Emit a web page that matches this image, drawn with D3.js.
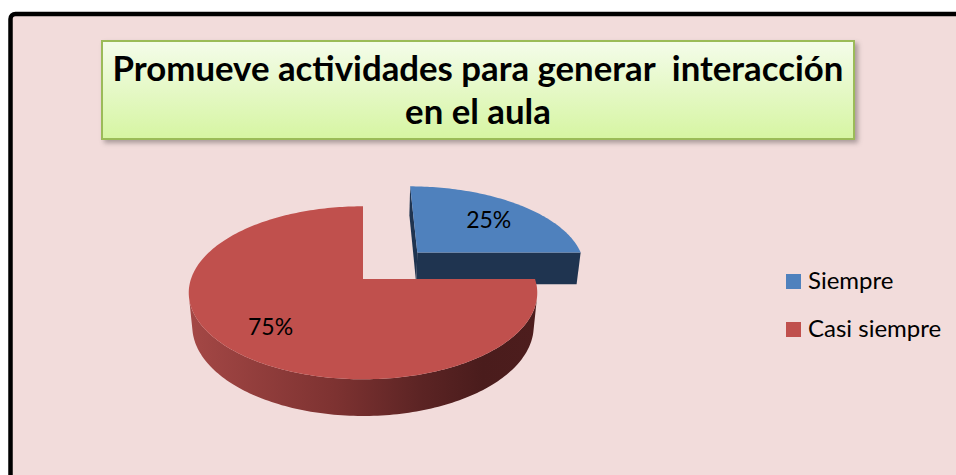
<!doctype html>
<html>
<head>
<meta charset="utf-8">
<title>Promueve actividades</title>
<style>
  body { margin: 0; background: #ffffff; }
  text { font-family: Lato, "Open Sans", sans-serif; }
</style>
</head>
<body>
<div id="chart"></div>
<script src="https://d3js.org/d3.v7.min.js"></script>
<script>
// datos
var categories = ["Siempre", "Casi siempre"];
var values = [25, 75];
var colors = ["#4F81BD", "#C0504D"];
var sideColors = ["#1F3450", "#4B1C1C"];
var explode = [0.47, 0];
var titleLines = ["Promueve actividades para generar  interacción", "en el aula"];

var w = 956, h = 475;

// camara para el pie 3D
var cx = 363, cy = 279, F = 941, D = 5.47;
var phi = Math.asin(0.49), sp = Math.sin(phi), cp = Math.cos(phi);
var depth = 0.224;

function proj(x, y, z) {
  var yc = y * cp - z * sp;
  var dep = D - (y * sp + z * cp);
  return [cx + F * x / dep, cy - F * yc / dep];
}
// punto del disco: angulo en sentido horario desde las 12
function pt(a, r, o, y) {
  return proj(o[0] + r * Math.sin(a), y, o[1] - r * Math.cos(a));
}
function sample(a0, a1) {
  var n = Math.max(2, Math.ceil((a1 - a0) / 0.02)), out = [];
  for (var i = 0; i <= n; i++) out.push(a0 + (a1 - a0) * i / n);
  return out;
}
function poly(pts) { return "M" + pts.map(function(p) { return p[0].toFixed(2) + "," + p[1].toFixed(2); }).join("L") + "Z"; }

var svg = d3.select("#chart").append("svg")
  .attr("width", w)
  .attr("height", h);

var defs = svg.append("defs");
var tg = defs.append("linearGradient").attr("id", "titleGrad").attr("x1", 0).attr("y1", 0).attr("x2", 0).attr("y2", 1);
tg.append("stop").attr("offset", 0).attr("stop-color", "#F4FCEA");
tg.append("stop").attr("offset", 1).attr("stop-color", "#D6F5A2");

var wg = defs.append("linearGradient").attr("id", "wallGrad")
  .attr("gradientUnits", "userSpaceOnUse").attr("x1", 186).attr("y1", 0).attr("x2", 535).attr("y2", 0);
[[0, "#A54846"], [0.43, "#7D3231"], [0.67, "#5C2424"], [0.85, "#4A1C1C"], [1, "#4D1D1D"]].forEach(function(s) {
  wg.append("stop").attr("offset", s[0]).attr("stop-color", s[1]);
});

var sh = defs.append("filter").attr("id", "shadow").attr("x", "-5%").attr("y", "-10%").attr("width", "115%").attr("height", "130%");
sh.append("feDropShadow").attr("dx", 3).attr("dy", 3).attr("stdDeviation", 2.5)
  .attr("flood-color", "#000").attr("flood-opacity", 0.3);

// fondo con marco
svg.append("rect")
  .attr("x", 10.5).attr("y", 14)
  .attr("width", 980).attr("height", 500)
  .attr("rx", 5)
  .attr("fill", "#F2DCDB")
  .attr("stroke", "#000").attr("stroke-width", 4.5);

// caja del titulo
svg.append("rect")
  .attr("x", 102).attr("y", 41)
  .attr("width", 752).attr("height", 98)
  .attr("fill", "url(#titleGrad)")
  .attr("stroke", "#9BBB59").attr("stroke-width", 2)
  .attr("filter", "url(#shadow)");

var title = svg.append("text")
  .attr("text-anchor", "middle")
  .style("font-weight", "bold")
  .style("white-space", "pre")
  .attr("fill", "#000");
titleLines.forEach(function(t, i) {
  title.append("tspan").attr("x", 478).attr("y", 81 + i * 43).text(t);
});
var fs = 33;
title.style("font-size", fs + "px");
var tl = title.select("tspan").node().getComputedTextLength();
title.style("font-size", (fs * 731 / tl) + "px");

// pie
var pie = d3.pie().sort(null).value(function(d) { return d; });
var arcs = pie(values);

var pg = svg.append("g");
arcs.forEach(function(d, i) {
  var mid = (d.startAngle + d.endAngle) / 2;
  var o = [explode[i] * Math.sin(mid), -explode[i] * Math.cos(mid)];
  var cam = [0, D * sp, D * cp];

  // pared exterior visible
  var run = [], runs = [];
  sample(d.startAngle, d.endAngle).forEach(function(a) {
    var px = o[0] + Math.sin(a), pz = o[1] - Math.cos(a);
    var dot = Math.sin(a) * (cam[0] - px) - Math.cos(a) * (cam[2] - pz);
    if (dot > 0) run.push(a);
    else if (run.length) { runs.push(run); run = []; }
  });
  if (run.length) runs.push(run);
  runs.forEach(function(r) {
    if (r.length < 2) return;
    var top = r.map(function(a) { return pt(a, 1, o, 0); });
    var bot = r.slice().reverse().map(function(a) { return pt(a, 1, o, -depth); });
    pg.append("path").attr("d", poly(top.concat(bot)))
      .attr("fill", i === 1 ? "url(#wallGrad)" : sideColors[i]);
  });

  // caras radiales
  [[d.startAngle, -1], [d.endAngle, 1]].forEach(function(e) {
    var a = e[0];
    var n = [e[1] * Math.cos(a), e[1] * Math.sin(a)];
    var px = o[0] + 0.5 * Math.sin(a), pz = o[1] - 0.5 * Math.cos(a);
    var dot = n[0] * (cam[0] - px) + n[1] * (cam[2] - pz);
    if (dot <= 0) return;
    pg.append("path").attr("d", poly([pt(a, 0, o, 0), pt(a, 1, o, 0), pt(a, 1, o, -depth), pt(a, 0, o, -depth)]))
      .attr("fill", sideColors[i]);
  });

  // cara superior
  var face = [pt(0, 0, o, 0)].concat(sample(d.startAngle, d.endAngle).map(function(a) { return pt(a, 1, o, 0); }));
  pg.append("path").attr("d", poly(face)).attr("fill", colors[i]);

  var lp = pt(mid, 0.7, o, 0);
  pg.append("text")
    .attr("x", lp[0]).attr("y", lp[1] + 2)
    .attr("text-anchor", "middle")
    .attr("dominant-baseline", "central")
    .style("font-size", "23px")
    .attr("fill", "#000")
    .text(values[i] + "%");
});

// leyenda
var lg = svg.selectAll(".leg")
  .data(categories)
  .enter().append("g")
  .attr("class", "leg")
  .attr("transform", function(d, i) { return "translate(786," + (274 + i * 48) + ")"; });
lg.append("rect").attr("width", 15).attr("height", 15).attr("fill", function(d, i) { return colors[i]; });
lg.append("text")
  .attr("x", 22).attr("y", 15)
  .style("font-size", "24px")
  .attr("fill", "#000")
  .text(function(d) { return d; });
</script>
</body>
</html>
